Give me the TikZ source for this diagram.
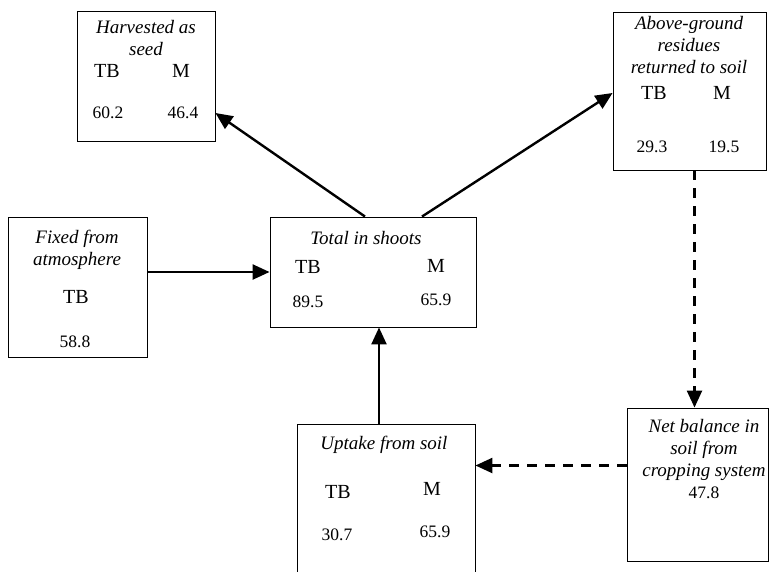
\documentclass[tikz,border=0pt]{standalone}
\usepackage{fontspec}
\setmainfont{Liberation Serif}
\usetikzlibrary{arrows.meta}

\begin{document}
\begin{tikzpicture}[x=1pt,y=-1pt,
  box/.style={draw, line width=0.9pt, minimum width=#1},
  title/.style={font=\fontsize{19}{22}\selectfont\itshape, align=center, inner sep=0pt},
  lab/.style={font=\fontsize{20}{22}\selectfont, inner sep=0pt},
  num/.style={font=\fontsize{17.5}{20}\selectfont, inner sep=0pt},
  flow/.style={line width=2.4pt, -{Triangle[length=17pt,width=15pt]}},
  flowdash/.style={flow, dash pattern=on 10pt off 8pt}]
\useasboundingbox (0,0) rectangle (769,571);
\clip (0,0) rectangle (769,571);
% boxes
\node[box=138pt, minimum height=130pt] (harv) at (146,76) {};
\node[box=153pt, minimum height=158pt] (above) at (689.5,91) {};
\node[box=139pt, minimum height=140pt] (fixed) at (77.5,287) {};
\node[box=206pt, minimum height=110pt] (total) at (373,272) {};
\node[box=178pt, minimum height=176pt] (uptake) at (386,512) {};
\node[box=141pt, minimum height=153pt] (net) at (697.5,484.5) {};
% texts
\node[title] (harvt) at (146,38) {Harvested as\\seed};
\node[lab] (harvtb) at (107,71) {TB};
\node[lab] (harvm) at (181,71) {M};
\node[num] (harvtbv) at (108,113) {60.2};
\node[num] (harvmv) at (183,113) {46.4};
\node[title] (abovet) at (689,45) {Above-ground\\residues\\returned to soil};
\node[lab] (abovetb) at (654,93) {TB};
\node[lab] (abovem) at (722,93) {M};
\node[num] (abovetbv) at (652,147) {29.3};
\node[num] (abovemv) at (724,147) {19.5};
\node[title] (fixedt) at (77,250) {Fixed from\\atmosphere};
\node[lab] (fixedtb) at (76,297) {TB};
\node[num] (fixedtbv) at (75,342) {58.8};
\node[title] (totalt) at (366,238) {Total in shoots};
\node[lab] (totaltb) at (308,267) {TB};
\node[lab] (totalm) at (436,266) {M};
\node[num] (totaltbv) at (308,302) {89.5};
\node[num] (totalmv) at (436,300) {65.9};
\node[title] (uptaket) at (384,445) {Uptake from soil};
\node[lab] (uptaketb) at (338,492) {TB};
\node[lab] (uptakem) at (432,489) {M};
\node[num] (uptaketbv) at (337,535) {30.7};
\node[num] (uptakemv) at (435,532) {65.9};
\node[title] (nett) at (704,450) {Net balance in\\soil from\\cropping system};
\node[num] (netv) at (704,493) {47.8};
% flows
\draw[flow] ([xshift=-8pt]total.north) -- ([yshift=-37pt]harv.east);
\draw[flow] ([xshift=49pt]total.north) -- ([yshift=-2pt]above.west);
\draw[flow] (fixed.east |- total.west) -- (total.west);
\draw[flow] ([xshift=-7pt]uptake.north) -- ([xshift=-7pt]uptake.north |- total.south);
\draw[flowdash] ([xshift=5pt]above.south) -- ([xshift=5pt]above.south |- net.north);
\draw[flowdash] ([yshift=19pt]net.west) -- ([yshift=19pt]net.west -| uptake.east);
\end{tikzpicture}
\end{document}
